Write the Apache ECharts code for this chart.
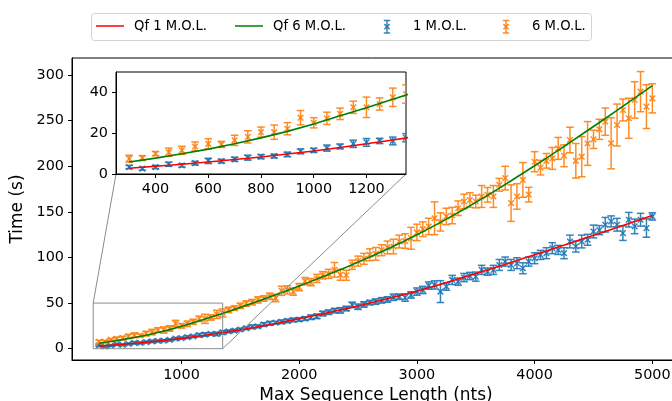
<!DOCTYPE html>
<html>
<head>
<meta charset="utf-8">
<script src="https://cdn.jsdelivr.net/npm/echarts@6/dist/echarts.min.js"></script>
<style>
html,body{margin:0;padding:0;background:#fff;}
#chart{width:672px;height:401px;}
</style>
</head>
<body>
<div id="chart"></div>
<script>
// ---- data ----
const lengths = [300,350,400,450,500,550,600,650,700,750,800,850,900,950,1000,1050,1100,1150,1200,1250,1300,1350,
 1400,1450,1500,1550,1600,1650,1700,1750,1800,1850,1900,1950,2000,2050,2100,2150,2200,2250,2300,2350,2400,2450,
 2500,2550,2600,2650,2700,2750,2800,2850,2900,2950,3000,3050,3100,3150,3200,3250,3300,3350,3400,3450,
 3500,3550,3600,3650,3700,3750,3800,3850,3900,3950,4000,4050,4100,4150,4200,4250,4300,4350,4400,4450,
 4500,4550,4600,4650,4700,4750,4800,4850,4900,4950,5000];

const mol1Mean = [3.4,2.6,3.4,4.8,4.2,5.3,6.4,6.3,7.2,8.0,8.5,8.8,9.6,11.1,11.6,12.7,13.5,14.8,15.5,16.2,16.2,17.8,
 19.0,19.8,21.0,22.5,24.0,24.5,26.5,27.9,28.5,29.5,30.5,31.5,32.0,33.0,34.5,35.5,38.5,40.0,41.7,42.0,44.0,48.0,
 46.0,48.5,50.5,51.6,53.0,54.0,56.4,57.0,56.0,58.9,62.6,64.4,69.2,69.9,62.6,68.1,75.4,73.5,78.0,79.7,
 79.0,86.4,84.5,86.4,91.8,95.5,91.8,93.7,88.2,95.5,99.2,102.8,104.7,110.2,108.3,104.7,117.5,112.0,117.5,119.4,
 128.5,130.0,135.9,139.6,135.9,126.7,141.4,134.1,141.4,132.2,145.0];
const mol1Err = [0.8,0.7,0.8,1.0,0.8,0.9,1.3,0.9,1.0,1.2,1.0,0.9,1.1,1.2,1.0,1.5,1.2,1.8,1.9,1.3,1.9,2.0,
 1.5,1.5,1.5,1.5,2.0,1.5,2.0,2.0,1.5,2.0,2.0,2.0,2.0,2.0,2.5,2.5,2.5,2.5,2.5,3.0,2.5,3.0,
 3.0,3.0,2.5,3.0,3.0,3.0,3.5,3.0,4.0,3.5,4.0,4.0,4.0,4.5,12.0,4.0,5.0,4.0,4.5,4.0,
 5.0,5.0,4.0,5.0,6.0,5.0,6.0,6.0,6.0,5.0,6.0,5.0,6.0,6.0,5.0,6.0,7.0,6.0,7.0,6.0,
 7.0,5.0,8.0,6.0,7.0,8.0,8.0,8.0,7.0,10.0,4.0];

const mol6Mean = [7.5,7.8,10.0,10.7,11.6,13.5,14.8,14.5,16.5,18.2,20.5,20.5,22.2,27.6,25.1,27.3,29.5,32.7,32.7,34.3,37.6,39.2,
 42.5,44.5,47.0,49.5,51.0,53.5,55.0,57.5,55.5,63.5,64.5,62.5,67.5,74.0,73.0,77.0,80.5,82.0,86.5,81.0,80.5,92.0,
 96.0,98.5,103.0,104.0,108.0,111.0,112.0,117.5,118.0,121.0,127.5,131.0,134.0,143.0,139.0,145.0,146.0,154.0,161.4,163.0,
 161.4,166.9,168.7,166.9,179.7,187.0,159.6,166.9,185.0,168.9,205.0,198.5,206.0,208.6,219.6,211.5,228.8,206.0,210.5,225.0,
 229.5,240.5,248.9,225.2,245.2,261.7,252.6,272.7,281.8,265.4,274.5];
const mol6Err = [1.7,1.2,1.0,2.0,2.0,2.2,2.5,1.5,2.5,3.0,2.5,3.5,3.0,3.5,2.5,3.0,2.8,3.0,5.0,3.0,4.5,4.5,
 3.0,2.5,3.0,3.0,3.0,3.5,3.0,3.5,4.0,5.0,4.5,4.0,4.0,4.0,4.0,4.5,4.0,5.0,8.0,6.0,5.5,5.0,
 5.5,6.0,6.5,7.0,6.0,7.0,8.0,7.0,8.0,12.0,9.0,8.0,9.0,18.0,10.0,9.0,9.0,8.0,8.0,8.0,
 7.0,12.0,8.0,12.0,7.0,13.0,20.0,14.0,19.0,8.0,11.0,8.0,8.0,12.0,12.0,12.0,14.0,19.0,22.0,24.0,
 10.0,11.0,15.0,28.0,23.0,12.0,22.0,20.0,22.0,24.0,16.0];

const fitLengths = [300,400,500,600,700,800,900,1000,1100,1200,1300,1400,1500,1600,1700,1800,1900,2000,
 2100,2200,2300,2400,2500,2600,2700,2800,2900,3000,3100,3200,3300,3400,3500,3600,3700,3800,3900,4000,
 4100,4200,4300,4400,4500,4600,4700,4800,4900,5000];
const qf1 = [2.8,3.8,4.8,5.9,7.1,8.3,9.8,11.3,13.0,14.8,16.7,18.7,20.8,23.0,25.3,27.7,30.2,32.8,
 35.5,38.2,41.0,43.9,46.9,50.0,53.1,56.3,59.6,63.0,66.7,70.5,74.4,78.3,82.3,86.3,90.4,94.6,98.8,103.0,
 107.2,111.4,115.7,120.0,124.3,128.6,132.9,137.3,141.7,146.0];
const qf6 = [5.9,7.8,9.9,12.2,14.8,17.7,20.9,24.5,28.5,32.5,36.6,40.9,45.3,49.8,54.4,59.1,63.9,68.8,
 73.8,78.9,84.1,89.4,94.9,100.5,106.3,112.3,118.5,124.9,131.6,138.5,145.6,152.9,160.4,168.1,176.0,184.1,192.3,200.6,
 209.0,217.5,226.1,234.8,243.6,252.4,261.3,270.3,279.4,288.5];

const mainXTicks = [1000,2000,3000,4000,5000];
const mainYTicks = [0,50,100,150,200,250,300];
const insetXTicks = [400,600,800,1000,1200];
const insetYTicks = [0,20,40];

const seriesNames = ['Qf 1 M.O.L.','Qf 6 M.O.L.','1 M.O.L.','6 M.O.L.'];
const BLUE = '#1f77b4', ORANGE = '#ff7f0e', RED = '#ff0000', GREEN = '#008000';
const FONT = 'DejaVu Sans';

// ---- helpers ----
function errTable(mean, err){ return lengths.map((x,i)=>[x, mean[i], err[i]]); }
function fitTable(v){ return fitLengths.map((x,i)=>[x, v[i]]); }
function errRender(color){
  return function(params, api){
    const x = api.value(0), y = api.value(1), e = api.value(2);
    const p = api.coord([x, y]);
    const hi = api.coord([x, y + e]);
    const lo = api.coord([x, y - e]);
    const cap = 3.8, m = 2.8;
    const st = {stroke: color, lineWidth: 1.5, fill: null, opacity: 0.9};
    return {type:'group', children:[
      {type:'line', shape:{x1:p[0], y1:hi[1], x2:p[0], y2:lo[1]}, style:st},
      {type:'line', shape:{x1:p[0]-cap, y1:hi[1], x2:p[0]+cap, y2:hi[1]}, style:st},
      {type:'line', shape:{x1:p[0]-cap, y1:lo[1], x2:p[0]+cap, y2:lo[1]}, style:st},
      {type:'line', shape:{x1:p[0]-m, y1:p[1]-m, x2:p[0]+m, y2:p[1]+m}, style:st},
      {type:'line', shape:{x1:p[0]-m, y1:p[1]+m, x2:p[0]+m, y2:p[1]-m}, style:st}
    ]};
  };
}
function axisCommon(ticks, extra){
  return Object.assign({
    type:'value', splitLine:{show:false},
    axisLine:{show:true, onZero:false, lineStyle:{color:'#000', width:1}},
    axisTick:{show:true, length:4, lineStyle:{color:'#000', width:1}, customValues: ticks},
    axisLabel:{color:'#000', fontFamily:FONT, fontSize:14.4, customValues: ticks,
      formatter: function(v){ return String(v); }}
  }, extra);
}

const chart = echarts.init(document.getElementById('chart'), null, {renderer:'canvas'});
const option = {
  animation:false,
  backgroundColor:'#fff',
  textStyle:{fontFamily:FONT},
  grid:[
    {left:72, top:58, width:608, height:302, show:true, borderColor:'#000', borderWidth:1,
      backgroundColor:'transparent', z:0, containLabel:false, outerBoundsMode:'none'},
    {left:116, top:72, width:290, height:102, show:true, borderColor:'#000', borderWidth:1,
      backgroundColor:'#fff', z:5, containLabel:false, outerBoundsMode:'none'}
  ],
  xAxis:[
    axisCommon(mainXTicks, {gridIndex:0, min:70, max:5235,
      name:'Max Sequence Length (nts)', nameLocation:'middle', nameGap:24,
      nameTextStyle:{color:'#000', fontFamily:FONT, fontSize:17, verticalAlign:'top'}}),
    axisCommon(insetXTicks, {gridIndex:1, min:250, max:1350, z:6})
  ],
  yAxis:[
    axisCommon(mainYTicks, {gridIndex:0, min:-12.4, max:318.7,
      name:'Time (s)', nameLocation:'middle', nameGap:41,
      nameTextStyle:{color:'#000', fontFamily:FONT, fontSize:17}}),
    axisCommon(insetYTicks, {gridIndex:1, min:0, max:50, z:6})
  ],
  series:[
    {name:seriesNames[2], type:'custom', xAxisIndex:0, yAxisIndex:0, clip:true, z:2,
      renderItem: errRender(BLUE), data: errTable(mol1Mean, mol1Err)},
    {name:seriesNames[3], type:'custom', xAxisIndex:0, yAxisIndex:0, clip:true, z:2,
      renderItem: errRender(ORANGE), data: errTable(mol6Mean, mol6Err)},
    {name:seriesNames[0], type:'line', xAxisIndex:0, yAxisIndex:0, showSymbol:false, z:3,
      lineStyle:{color:RED, width:1.6}, data: fitTable(qf1)},
    {name:seriesNames[1], type:'line', xAxisIndex:0, yAxisIndex:0, showSymbol:false, z:3,
      lineStyle:{color:GREEN, width:1.6}, data: fitTable(qf6)},
    {name:seriesNames[2], type:'custom', xAxisIndex:1, yAxisIndex:1, clip:true, z:7,
      renderItem: errRender(BLUE), data: errTable(mol1Mean, mol1Err)},
    {name:seriesNames[3], type:'custom', xAxisIndex:1, yAxisIndex:1, clip:true, z:7,
      renderItem: errRender(ORANGE), data: errTable(mol6Mean, mol6Err)},
    {name:seriesNames[0], type:'line', xAxisIndex:1, yAxisIndex:1, showSymbol:false, z:8, clip:true,
      lineStyle:{color:RED, width:1.6}, data: fitTable(qf1)},
    {name:seriesNames[1], type:'line', xAxisIndex:1, yAxisIndex:1, showSymbol:false, z:8, clip:true,
      lineStyle:{color:GREEN, width:1.6}, data: fitTable(qf6)}
  ]
};
chart.setOption(option);

// ---- inset indicator (rectangle + connectors) and legend ----
const rTL = chart.convertToPixel({gridIndex:0}, [250, 50]);
const rBR = chart.convertToPixel({gridIndex:0}, [1350, 0]);
const iBL = chart.convertToPixel({gridIndex:1}, [250, 0]);
const iBR = chart.convertToPixel({gridIndex:1}, [1350, 0]);
const GREY = '#8c8c8c';

function legendErr(cx, color){
  const st = {stroke:color, lineWidth:1.5, opacity:0.9};
  return [
    {type:'line', shape:{x1:cx, y1:20.5, x2:cx, y2:33}, style:st},
    {type:'line', shape:{x1:cx-3.2, y1:20.5, x2:cx+3.2, y2:20.5}, style:st},
    {type:'line', shape:{x1:cx-3.2, y1:33, x2:cx+3.2, y2:33}, style:st},
    {type:'line', shape:{x1:cx-2.6, y1:24.1, x2:cx+2.6, y2:29.3}, style:st},
    {type:'line', shape:{x1:cx-2.6, y1:29.3, x2:cx+2.6, y2:24.1}, style:st}
  ];
}
function legendText(x, t){
  return {type:'text', x:x, y:27, style:{text:t, fill:'#000', font:'13.2px "DejaVu Sans"', verticalAlign:'middle'}};
}

chart.setOption({
  graphic:[
    {type:'rect', z:4, silent:true, shape:{x:rTL[0], y:rTL[1], width:rBR[0]-rTL[0], height:rBR[1]-rTL[1]},
      style:{fill:null, stroke:GREY, lineWidth:1}},
    {type:'line', z:4, silent:true, shape:{x1:rTL[0], y1:rTL[1], x2:iBL[0], y2:iBL[1]}, style:{stroke:GREY, lineWidth:1}},
    {type:'line', z:4, silent:true, shape:{x1:rBR[0], y1:rBR[1], x2:iBR[0], y2:iBR[1]}, style:{stroke:GREY, lineWidth:1}},
    {type:'group', z:20, silent:true, children:[
      {type:'rect', shape:{x:91.5, y:13.5, width:500, height:27, r:3}, style:{fill:'rgba(255,255,255,0.8)', stroke:'#d3d3d3', lineWidth:1}},
      {type:'line', shape:{x1:96, y1:26, x2:124, y2:26}, style:{stroke:RED, lineWidth:1.5}},
      legendText(134, seriesNames[0]),
      {type:'line', shape:{x1:235, y1:26, x2:263, y2:26}, style:{stroke:GREEN, lineWidth:1.5}},
      legendText(273, seriesNames[1])
    ].concat(legendErr(387, BLUE), [legendText(413, seriesNames[2])], legendErr(506, ORANGE), [legendText(532, seriesNames[3])])}
  ]
});
</script>
</body>
</html>
